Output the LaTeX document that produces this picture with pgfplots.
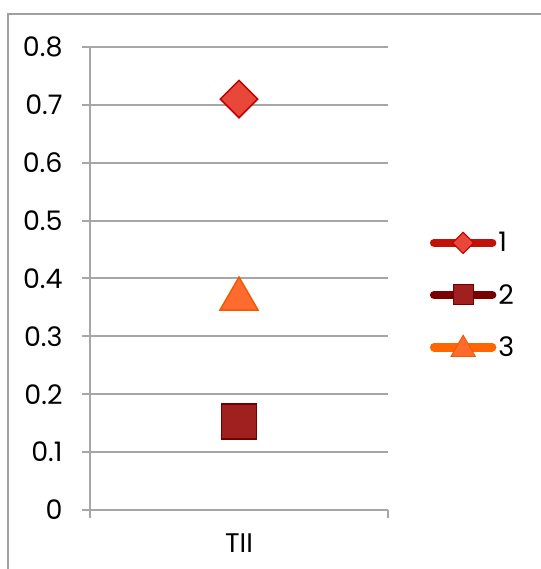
\documentclass[border=0pt]{standalone}
\usepackage{pgfplots}
\pgfplotsset{compat=1.18}
\usepackage{fontspec}
\setmainfont{Poppins}

\definecolor{gridgray}{HTML}{A6A6A6}
\definecolor{frame}{HTML}{A0A0A0}
\definecolor{sOneLine}{HTML}{C01208}
\definecolor{sOneFill}{HTML}{E8473A}
\definecolor{sOneEdge}{HTML}{C00000}
\definecolor{sTwoLine}{HTML}{780000}
\definecolor{sTwoFill}{HTML}{A02020}
\definecolor{sTwoEdge}{HTML}{700000}
\definecolor{sThreeLine}{HTML}{FF6600}
\definecolor{sThreeFill}{HTML}{FF6B2E}
\definecolor{sThreeEdge}{HTML}{F05A00}

\begin{document}
\begin{tikzpicture}
\useasboundingbox (0,0) rectangle (541bp,569bp);
% outer chart frame
\draw[frame, line width=1.6bp] (8bp,0) -- (8bp,555bp) -- (541bp,555bp);

\begin{axis}[
  at={(90bp,59bp)}, anchor=south west,
  width=298bp, height=463bp, scale only axis,
  xmin=0, xmax=2, ymin=0, ymax=0.8,
  axis lines=left,
  axis line style={gridgray, line width=2bp, -},
  ytick={0,0.1,...,0.8},
  yticklabel style={/pgf/number format/fixed, /pgf/number format/precision=1},
  /pgf/number format/assume math mode=true,
  ymajorgrids,
  grid style={gridgray, line width=2bp},
  tick align=outside,
  major tick length=8bp,
  tick style={gridgray, line width=2bp},
  xtick={0,2}, xticklabels={},
  extra x ticks={1}, extra x tick labels={TII},
  extra x tick style={major tick length=0pt, grid=none,
    xticklabel style={yshift=-20bp}},
  ticklabel style={font=\fontsize{27}{30}\selectfont, text=black},
  yticklabel style={xshift=-16bp},
  clip=false,
  legend style={at={(1.14,0.464)}, anchor=west, draw=none, fill=none,
    font=\fontsize{27}{30}\selectfont, row sep=27bp, inner sep=0pt,
    /tikz/every even column/.append style={column sep=0bp}},
  legend cell align=left,
]
\addplot[only marks, mark=square*, mark size=13.2bp,
  mark options={rotate=45, fill=sOneFill, draw=sOneEdge, line width=1.5bp},
  legend image code/.code={
    \draw[sOneLine, line width=8.5bp, line cap=round] (0bp,0bp) -- (58bp,0bp);
    \draw[fill=sOneFill, draw=sOneEdge, line width=1bp, rotate around={45:(29bp,0bp)}]
      (21.5bp,-7.5bp) rectangle (36.5bp,7.5bp);
  }] coordinates {(1,0.71)};
\addlegendentry{1}

\addplot[only marks, mark=square*, mark size=17.5bp,
  mark options={fill=sTwoFill, draw=sTwoEdge, line width=1.5bp},
  legend image code/.code={
    \draw[sTwoLine, line width=8.5bp, line cap=round] (0bp,0bp) -- (58bp,0bp);
    \draw[fill=sTwoFill, draw=sTwoEdge, line width=1bp] (19bp,-10bp) rectangle (39bp,10bp);
  }] coordinates {(1,0.153)};
\addlegendentry{2}

\addplot[only marks, mark=triangle*, mark size=22bp,
  mark options={fill=sThreeFill, draw=sThreeEdge, line width=1.5bp, yshift=-5bp},
  legend image code/.code={
    \draw[sThreeLine, line width=8.5bp, line cap=round] (0bp,0bp) -- (58bp,0bp);
    \draw[fill=sThreeFill, draw=sThreeEdge, line width=1bp]
      (17bp,-9bp) -- (41bp,-9bp) -- (29bp,12bp) -- cycle;
  }] coordinates {(1,0.373)};
\addlegendentry{3}
\end{axis}
\end{tikzpicture}
\end{document}
